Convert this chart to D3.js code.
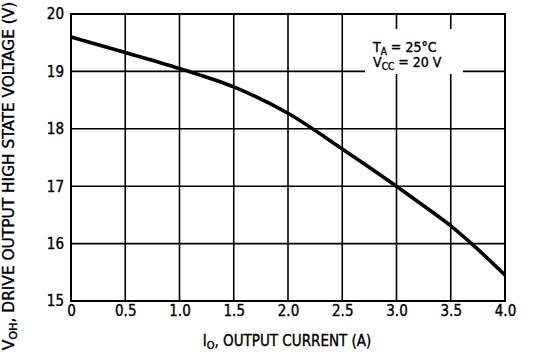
<!DOCTYPE html>
<html>
<head>
<meta charset="utf-8">
<script src="https://cdn.jsdelivr.net/npm/d3@7"></script>
<style>
body { margin: 0; background: #fff; }
svg { display: block; }
text { font-family: "DejaVu Sans Condensed", "DejaVu Sans", sans-serif; font-stretch: condensed; fill: #000; stroke: #000; stroke-width: 0.35; }
</style>
</head>
<body>
<svg width="535" height="357"></svg>
<script>
// output current (A) vs drive output high state voltage (V)
var current = [0, 0.5, 1.0, 1.5, 2.0, 2.5, 3.0, 3.25, 3.5, 3.75, 4.0];
var voltage = [19.6, 19.33, 19.05, 18.73, 18.27, 17.65, 17.0, 16.66, 16.31, 15.9, 15.45];
var xTicks = [0, 0.5, 1.0, 1.5, 2.0, 2.5, 3.0, 3.5, 4.0];
var xTickLabels = ["0", "0.5", "1.0", "1.5", "2.0", "2.5", "3.0", "3.5", "4.0"];
var yTicks = [15, 16, 17, 18, 19, 20];

var svg = d3.select("svg");
var plotLeft = 71, plotRight = 505, plotTop = 14, plotBottom = 301;

var x = d3.scaleLinear().domain([0, 4]).range([plotLeft, plotRight]);
var y = d3.scaleLinear().domain([15, 20]).range([plotBottom, plotTop]);

// grid
var grid = svg.append("g").attr("stroke", "#000").attr("stroke-width", 1.6);
grid.selectAll("line.v")
	.data(xTicks)
	.enter().append("line")
	.attr("class", "v")
	.attr("x1", function(d){ return x(d); })
	.attr("x2", function(d){ return x(d); })
	.attr("y1", plotTop)
	.attr("y2", plotBottom);
grid.selectAll("line.h")
	.data(yTicks)
	.enter().append("line")
	.attr("class", "h")
	.attr("x1", plotLeft)
	.attr("x2", plotRight)
	.attr("y1", function(d){ return y(d); })
	.attr("y2", function(d){ return y(d); });

// white box behind the conditions note
svg.append("rect")
	.attr("x", 365).attr("y", 29)
	.attr("width", 98).attr("height", 45)
	.attr("fill", "#fff");

svg.append("rect")
	.attr("x", plotLeft).attr("y", plotTop)
	.attr("width", plotRight - plotLeft).attr("height", plotBottom - plotTop)
	.attr("fill", "none").attr("stroke", "#000").attr("stroke-width", 2);

// tick labels (grid already draws the lines)
var xAxis = d3.axisBottom(x).tickValues(xTicks)
	.tickFormat(function(d, i){ return xTickLabels[i]; }).tickSize(0).tickPadding(4);
var gx = svg.append("g").attr("transform", "translate(0," + plotBottom + ")").call(xAxis);
gx.select(".domain").remove();
gx.attr("font-family", null).attr("font-size", null);
gx.selectAll("text").style("font-size", "15px");

var yAxis = d3.axisLeft(y).tickValues(yTicks).tickFormat(d3.format("d")).tickSize(0).tickPadding(7);
var gy = svg.append("g").attr("transform", "translate(" + plotLeft + ",0)").call(yAxis);
gy.select(".domain").remove();
gy.attr("font-family", null).attr("font-size", null);
gy.selectAll("text").style("font-size", "15px");

// curve
var line = d3.line()
	.x(function(d, i){ return x(current[i]); })
	.y(function(d){ return y(d); })
	.curve(d3.curveMonotoneX);
svg.append("path")
	.datum(voltage)
	.attr("d", line)
	.attr("fill", "none")
	.attr("stroke", "#000")
	.attr("stroke-width", 3.6);

// conditions note
var note = svg.append("g").style("font-size", "14px");
var t1 = note.append("text").attr("x", 373).attr("y", 52);
t1.append("tspan").text("T");
t1.append("tspan").attr("dy", 3).style("font-size", "10px").text("A");
t1.append("tspan").attr("dy", -3).text(" = 25°C");
var t2 = note.append("text").attr("x", 373).attr("y", 67);
t2.append("tspan").text("V");
t2.append("tspan").attr("dy", 3).style("font-size", "10px").text("CC");
t2.append("tspan").attr("dy", -3).text(" = 20 V");

// x title
var xt = svg.append("text")
	.attr("x", 287).attr("y", 346)
	.attr("text-anchor", "middle")
	.style("font-size", "15px");
xt.append("tspan").text("I");
xt.append("tspan").attr("dy", 3).style("font-size", "11px").text("O");
xt.append("tspan").attr("dy", -3).text(", OUTPUT CURRENT (A)");

// y title
var yt = svg.append("text")
	.attr("transform", "translate(14,176) rotate(-90) scale(1.14,1)")
	.attr("text-anchor", "middle")
	.style("font-size", "15px");
yt.append("tspan").text("V");
yt.append("tspan").attr("dy", 3).style("font-size", "11px").text("OH");
yt.append("tspan").attr("dy", -3).text(", DRIVE OUTPUT HIGH STATE VOLTAGE (V)");
</script>
</body>
</html>
